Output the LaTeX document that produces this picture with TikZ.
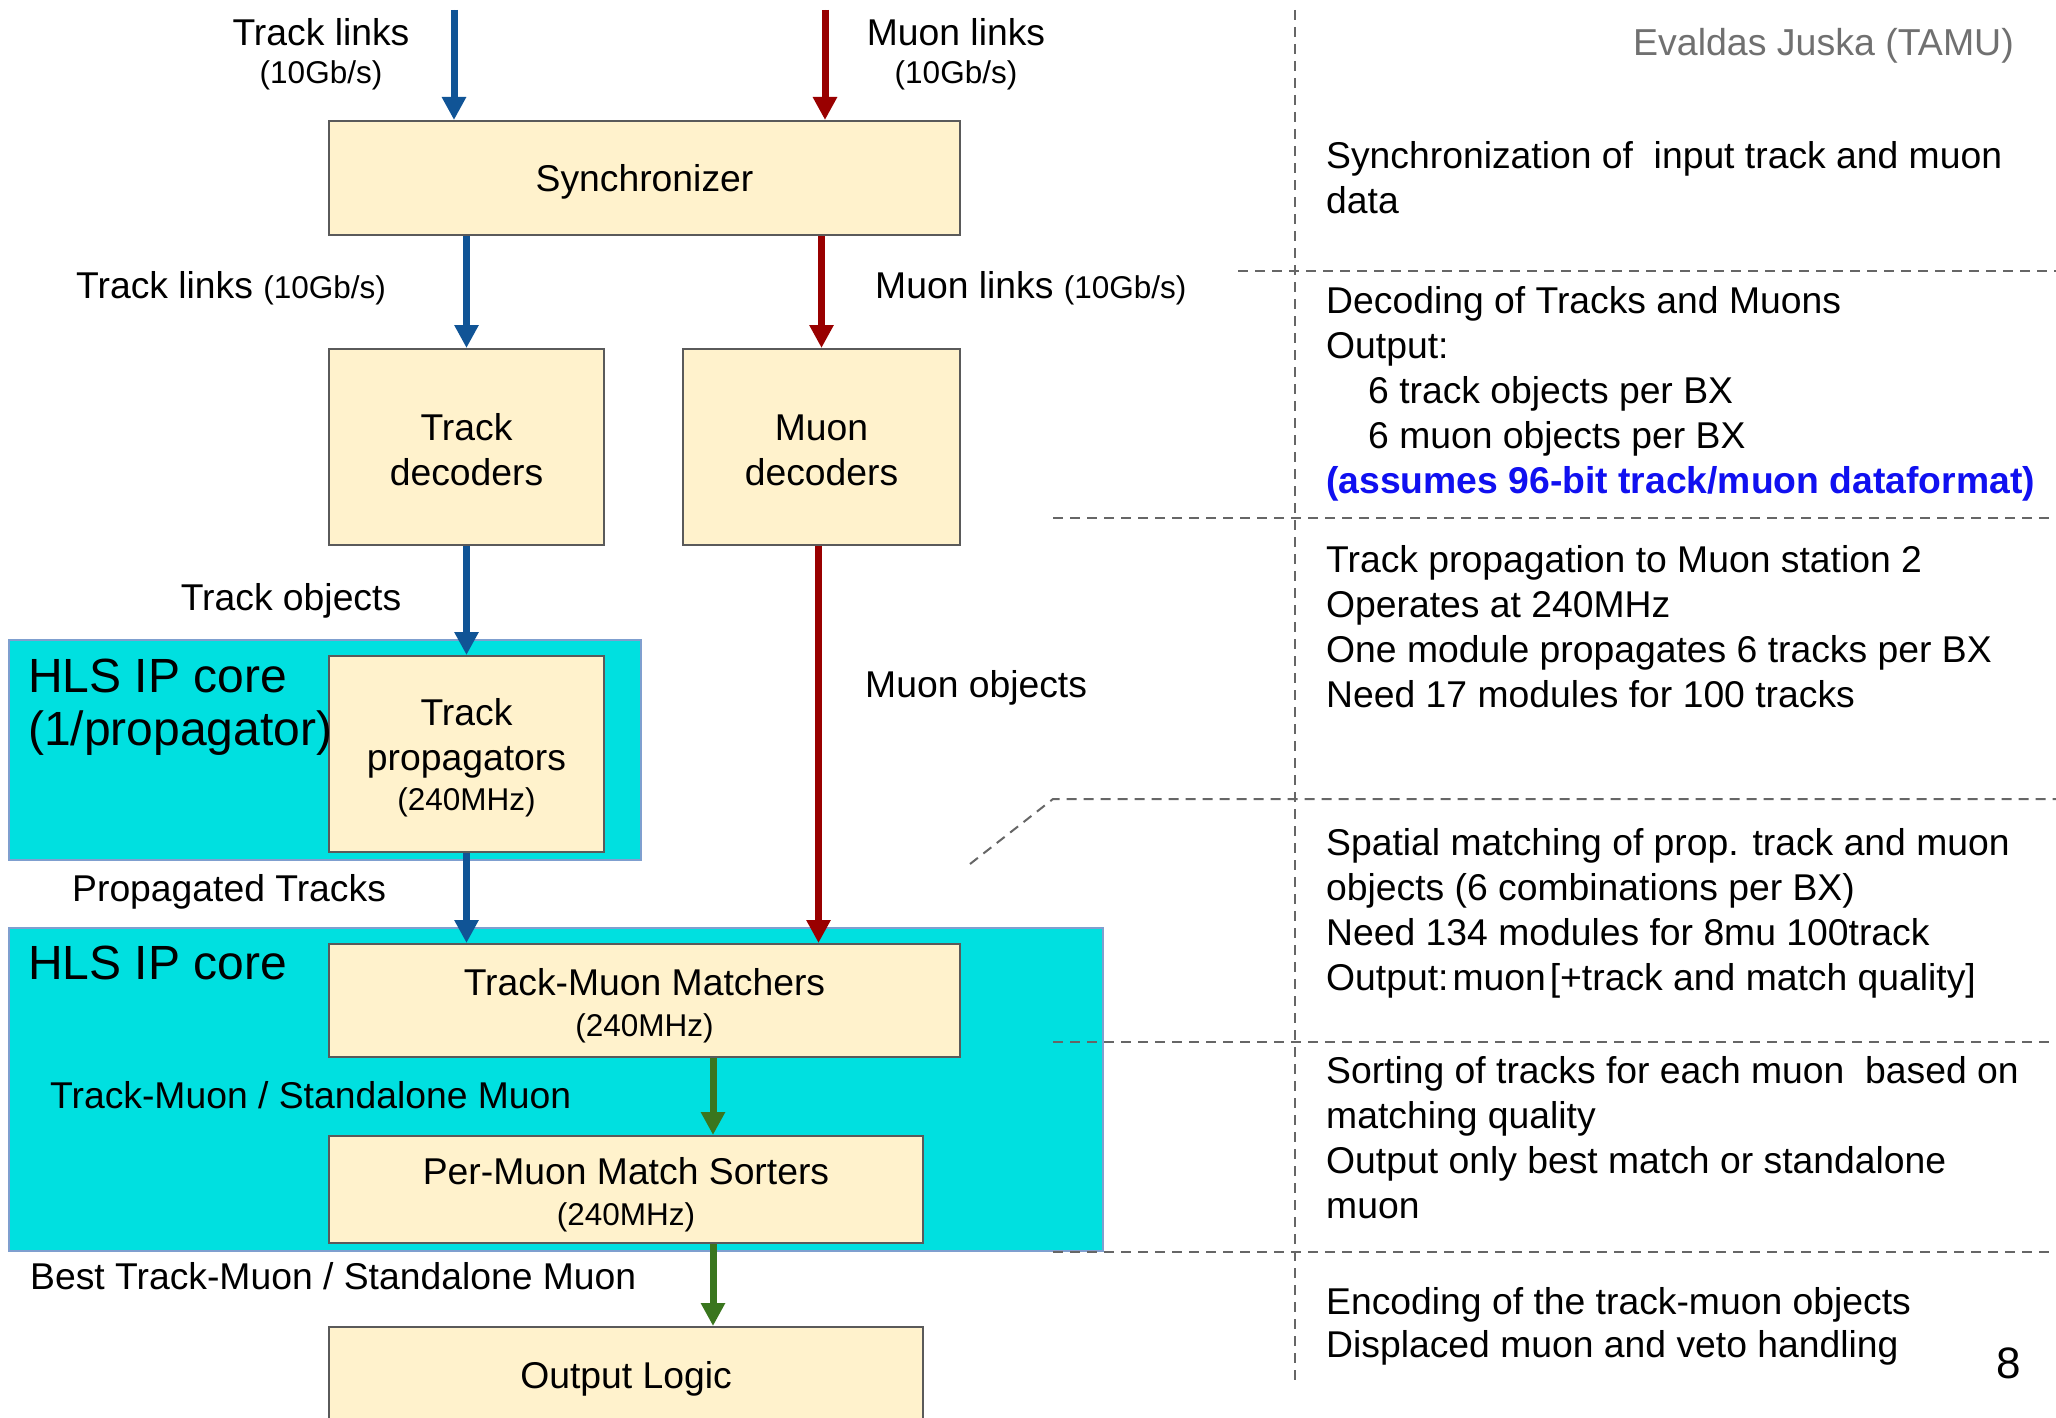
\documentclass[tikz,border=0pt]{standalone}
\usepackage{fontspec}
\setmainfont{Liberation Sans}
\usetikzlibrary{arrows.meta}
\definecolor{boxfill}{RGB}{255,242,204}
\definecolor{boxline}{RGB}{90,90,90}
\definecolor{cyanfill}{RGB}{0,224,224}
\definecolor{cyanline}{RGB}{127,159,207}
\definecolor{tblue}{RGB}{16,84,150}
\definecolor{mred}{RGB}{153,0,0}
\definecolor{ggreen}{RGB}{58,118,30}
\definecolor{dashgray}{RGB}{102,102,102}
\definecolor{notegray}{RGB}{112,112,112}
\definecolor{boldblue}{RGB}{16,16,240}
\newcommand\fbig{\fontsize{37.3}{45}\selectfont}
\newcommand\fsml{\fontsize{31.5}{41}\selectfont}
\newcommand\fhuge{\fontsize{48}{54}\selectfont}
\newcommand\lift[1]{\rule{0pt}{#1}}
\tikzset{
  ybox/.style={draw=boxline, line width=2pt, fill=boxfill, inner sep=0pt, align=center, font=\fbig},
  cbox/.style={draw=cyanline, line width=1.5pt, fill=cyanfill, inner sep=0pt},
  lbl/.style={inner sep=0pt, font=\fbig},
  arr/.style={line width=7pt, -{Triangle[width=23pt,length=23pt]}},
  bluearr/.style={arr, draw=tblue, fill=tblue},
  redarr/.style={arr, draw=mred, fill=mred},
  greenarr/.style={arr, draw=ggreen, fill=ggreen},
  sep/.style={draw=dashgray, line width=2pt, dash pattern=on 10pt off 7pt},
}
\begin{document}
\begin{tikzpicture}[x=1pt,y=-1pt]
\useasboundingbox (0,0) rectangle (2056,1418);
% cyan containers
\node[cbox, minimum width=632pt, minimum height=220pt] (hls1) at (325,750) {};
\node[cbox, minimum width=1094pt, minimum height=323pt] (hls2) at (556,1089.5) {};
% boxes
\node[ybox, minimum width=631pt, minimum height=114pt] (sync) at (644.5,178) {\lift{35pt}Synchronizer};
\node[ybox, minimum width=275pt, minimum height=196pt] (tdec) at (466.5,447) {\lift{32pt}Track\\decoders};
\node[ybox, minimum width=277pt, minimum height=196pt] (mdec) at (821.5,447) {\lift{32pt}Muon\\decoders};
\node[ybox, minimum width=275pt, minimum height=196pt] (tprop) at (466.5,754) {\lift{34pt}Track\\propagators\\[-5pt]{\fsml (240MHz)}};
\node[ybox, minimum width=631pt, minimum height=113pt] (match) at (644.5,1000.5) {\lift{37pt}Track-Muon Matchers\\[-4pt]{\fsml (240MHz)}};
\node[ybox, minimum width=594pt, minimum height=107pt] (sort) at (626,1189.5) {\lift{37pt}Per-Muon Match Sorters\\[-4pt]{\fsml (240MHz)}};
\node[ybox, minimum width=594pt, minimum height=96pt] (out) at (626,1375) {\lift{35pt}Output Logic};
% arrows
\coordinate (tin) at (454,10);
\coordinate (min) at (825,10);
\coordinate (gx) at (713,0);
\draw[bluearr] (tin) -- (tin |- sync.north);
\draw[redarr] (min) -- (min |- sync.north);
\draw[bluearr] (sync.south -| tdec) -- (tdec.north);
\draw[redarr] (sync.south -| mdec) -- (mdec.north);
\draw[bluearr] (tdec.south) -- (tprop.north);
\draw[redarr] ([xshift=-3pt]mdec.south) -- ([xshift=-3pt]mdec.south |- match.north);
\draw[bluearr] (tprop.south) -- (tprop.south |- match.north);
\draw[greenarr] (match.south -| gx) -- (sort.north -| gx);
\draw[greenarr] (sort.south -| gx) -- (out.north -| gx);
% left labels
\node[lbl, anchor=base] (tl1) at (321,46) {Track links};
\node[lbl, anchor=base, font=\fsml] (tl1b) at (321,84) {(10Gb/s)};
\node[lbl, anchor=base] (ml1) at (956,46) {Muon links};
\node[lbl, anchor=base, font=\fsml] (ml1b) at (956,84) {(10Gb/s)};
\node[lbl, anchor=base west] (tl2) at (76,298) {Track links {\fsml (10Gb/s)}};
\node[lbl, anchor=base west] (ml2) at (875,298) {Muon links {\fsml (10Gb/s)}};
\node[lbl, anchor=base] (tobj) at (291,610) {Track objects};
\node[lbl, anchor=base west] (mobj) at (865,697) {Muon objects};
\node[lbl, anchor=base west] (ptr) at (72,901) {Propagated Tracks};
\node[lbl, anchor=base west, font=\fhuge] (h1a) at (28,692) {HLS IP core};
\node[lbl, anchor=base west, font=\fhuge] (h1b) at (28,745) {(1/propagator)};
\node[lbl, anchor=base west, font=\fhuge] (h2a) at (28,979) {HLS IP core};
\node[lbl, anchor=base west] (tmsm) at (50,1108) {Track-Muon / Standalone Muon};
\node[lbl, anchor=base west] (btm) at (30,1289) {Best Track-Muon / Standalone Muon};
% separators
\coordinate (vt) at (1295,10);
\coordinate (vb) at (1295,1383);
\draw[sep] (vt) -- (vb);
\coordinate (s1a) at (1238,271); \coordinate (s1b) at (2056,271);
\draw[sep] (s1a) -- (s1b);
\coordinate (s2a) at (1053,518); \coordinate (s2b) at (2056,518);
\draw[sep] (s2a) -- (s2b);
\coordinate (s3d) at (970,864); \coordinate (s3a) at (1053,799); \coordinate (s3b) at (2056,799);
\draw[sep] (s3d) -- (s3a) -- (s3b);
\coordinate (s4a) at (1053,1042); \coordinate (s4b) at (2056,1042);
\draw[sep] (s4a) -- (s4b);
\coordinate (s5a) at (1053,1252); \coordinate (s5b) at (2056,1252);
\draw[sep] (s5a) -- (s5b);
% right notes
\node[lbl, anchor=base east, font=\fontsize{37.5}{44}\selectfont, text=notegray] (auth) at (2014,56) {Evaldas Juska (TAMU)};
\node[lbl, anchor=base west] (r1a) at (1326,168) {Synchronization of\ \ input track and muon};
\node[lbl, anchor=base west] (r1b) at (1326,213) {data};
\node[lbl, anchor=base west] (r2a) at (1326,313) {Decoding of Tracks and Muons};
\node[lbl, anchor=base west] (r2b) at (1326,358) {Output:};
\node[lbl, anchor=base west] (r2c) at (1368,403) {6 track objects per BX};
\node[lbl, anchor=base west] (r2d) at (1368,448) {6 muon objects per BX};
\node[lbl, anchor=base west, text=boldblue, font=\fbig\bfseries] (r2e) at (1326,493) {(assumes 96-bit track/muon dataformat)};
\node[lbl, anchor=base west] (r3a) at (1326,572) {Track propagation to Muon station 2};
\node[lbl, anchor=base west] (r3b) at (1326,617) {Operates at 240MHz};
\node[lbl, anchor=base west] (r3c) at (1326,662) {One module propagates 6 tracks per BX};
\node[lbl, anchor=base west] (r3d) at (1326,707) {Need 17 modules for 100 tracks};
\node[lbl, anchor=base west] (r4a) at (1326,855) {Spatial matching of prop. track and muon};
\node[lbl, anchor=base west] (r4b) at (1326,900) {objects (6 combinations per BX)};
\node[lbl, anchor=base west] (r4c) at (1326,945) {Need 134 modules for 8mu 100track};
\node[lbl, anchor=base west] (r4d) at (1326,990) {Output:\hspace{4pt}muon\hspace{4pt}[+track and match quality]};
\node[lbl, anchor=base west] (r5a) at (1326,1083) {Sorting of tracks for each muon\ \ based on};
\node[lbl, anchor=base west] (r5b) at (1326,1128) {matching quality};
\node[lbl, anchor=base west] (r5c) at (1326,1173) {Output only best match or standalone};
\node[lbl, anchor=base west] (r5d) at (1326,1218) {muon};
\node[lbl, anchor=base west] (r6a) at (1326,1314) {Encoding of the track-muon objects};
\node[lbl, anchor=base west] (r6b) at (1326,1357) {Displaced muon and veto handling};
\node[lbl, anchor=base, font=\fontsize{44}{50}\selectfont] (pg) at (2009,1378) {8};
\end{tikzpicture}
\end{document}
